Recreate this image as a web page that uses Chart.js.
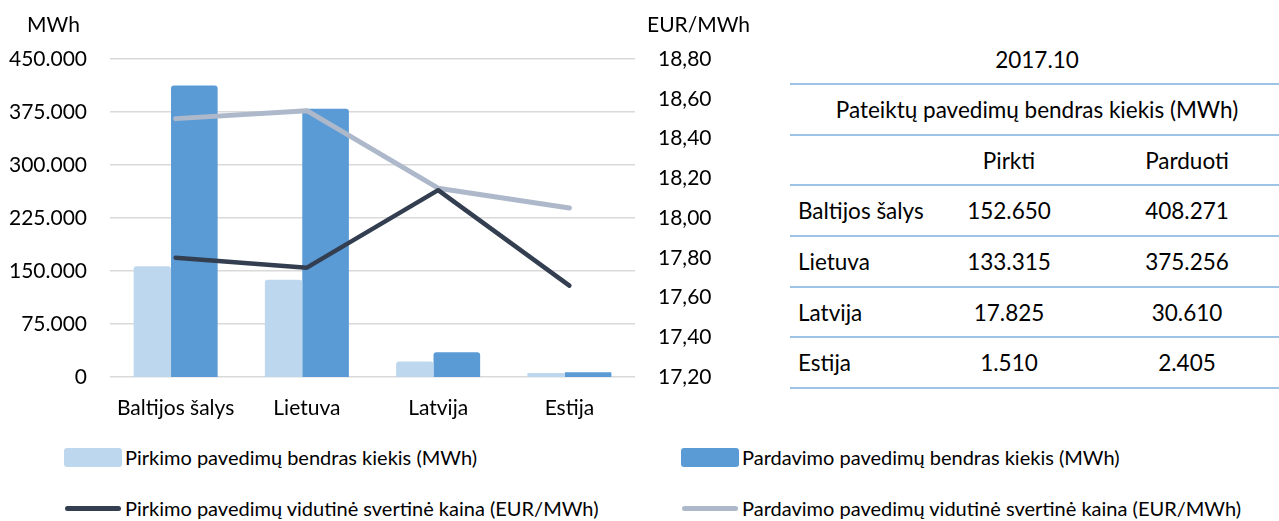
<!DOCTYPE html>
<html>
<head>
<meta charset="utf-8">
<script src="https://cdn.jsdelivr.net/npm/chart.js"></script>
<style>
  html, body { margin: 0; padding: 0; background: #fff; overflow: hidden; }
  body { width: 1279px; height: 521px; position: relative; font-family: Lato, "Noto Sans", sans-serif; color: #000; }
  #wrap { position: absolute; left: 0; top: 0; width: 780px; height: 430px; }
  .axis-title { position: absolute; top: 11px; font-size: 21px; line-height: 25px; }
  #table { position: absolute; left: 790px; top: 35px; width: 494px; border-collapse: separate; border-spacing: 0; font-size: 22.5px; }
  #table td { padding: 0; height: 48.7px; border-bottom: 2px solid #9dc3e6; text-align: center; vertical-align: middle; }
  #table tr.title td { height: 48px; }
  #table td.name { text-align: left; padding-left: 8px; }
  .legend-item { position: absolute; height: 24px; display: flex; align-items: center; }
  .legend-item .swatch { flex: none; }
  .legend-item span { font-size: 20px; white-space: nowrap; }
</style>
</head>
<body>
<div id="wrap"><canvas id="chart" width="780" height="430"></canvas></div>
<div class="axis-title" style="left:27px">MWh</div>
<div class="axis-title" style="left:647px">EUR/MWh</div>
<table id="table"></table>
<div id="legend"></div>
<script>
const categories = ['Baltijos šalys', 'Lietuva', 'Latvija', 'Estija'];
const buyVolume = [152650, 133315, 17825, 1510];
const sellVolume = [408271, 375256, 30610, 2405];
const buyPrice = [17.80, 17.75, 18.14, 17.66];
const sellPrice = [18.50, 18.54, 18.15, 18.05];
const seriesLabels = [
  'Pirkimo pavedimų bendras kiekis (MWh)',
  'Pardavimo pavedimų bendras kiekis (MWh)',
  'Pirkimo pavedimų vidutinė svertinė kaina (EUR/MWh)',
  'Pardavimo pavedimų vidutinė svertinė kaina (EUR/MWh)'
];
const period = '2017.10';
const tableHeading = 'Pateiktų pavedimų bendras kiekis (MWh)';
const columnLabels = ['Pirkti', 'Parduoti'];

const colors = ['#bdd7ee', '#5b9bd5', '#333f50', '#adb9ca'];
const font = { family: 'Lato, "Noto Sans", sans-serif', size: 21 };

function thousands(v) {
  return String(Math.round(v)).replace(/\B(?=(\d{3})+(?!\d))/g, '.');
}

new Chart(document.getElementById('chart'), {
  type: 'bar',
  data: {
    labels: categories,
    datasets: [
      {
        label: seriesLabels[0], data: buyVolume, backgroundColor: colors[0],
        categoryPercentage: 0.71, barPercentage: 0.674, inflateAmount: 3,
        borderRadius: { topLeft: 3, topRight: 3 }, borderSkipped: false, order: 1
      },
      {
        label: seriesLabels[1], data: sellVolume, backgroundColor: colors[1],
        categoryPercentage: 0.57, barPercentage: 1.086, inflateAmount: 3,
        borderRadius: { topLeft: 3, topRight: 3 }, borderSkipped: false, order: 1
      },
      {
        type: 'line', label: seriesLabels[2], data: buyPrice, yAxisID: 'y1',
        borderColor: colors[2], borderWidth: 4.5, pointRadius: 0,
        borderCapStyle: 'round', borderJoinStyle: 'round', order: 0
      },
      {
        type: 'line', label: seriesLabels[3], data: sellPrice, yAxisID: 'y1',
        borderColor: colors[3], borderWidth: 5, pointRadius: 0,
        borderCapStyle: 'round', borderJoinStyle: 'round', order: 0
      }
    ]
  },
  options: {
    responsive: false,
    animation: false,
    layout: { padding: { top: 59, left: 0, right: 0, bottom: 0 } },
    plugins: { legend: { display: false }, tooltip: { enabled: false } },
    scales: {
      x: {
        grid: { display: false },
        border: { display: false },
        ticks: { color: '#000', font: font, padding: 11, maxRotation: 0 },
        afterFit: (axis) => { axis.height = 53; }
      },
      y: {
        position: 'left',
        min: 0, max: 450000,
        grid: { color: '#d9d9d9', lineWidth: 1.5, drawTicks: false },
        border: { display: false },
        ticks: { stepSize: 75000, color: '#000', font: font, padding: 23, callback: (v) => thousands(v) },
        afterFit: (axis) => { axis.width = 110; }
      },
      y1: {
        position: 'right',
        min: 17.2, max: 18.8,
        grid: { display: false, drawTicks: false },
        border: { display: false },
        ticks: { stepSize: 0.2, color: '#000', font: font, padding: 23, callback: (v) => v.toFixed(2).replace('.', ',') },
        afterFit: (axis) => { axis.width = 145; }
      }
    }
  }
});

// table on the right
const table = document.getElementById('table');
let html = '<tr class="title"><td colspan="3">' + period + '</td></tr>';
html += '<tr><td colspan="3">' + tableHeading + '</td></tr>';
html += '<tr><td class="name" style="width:130px"></td><td style="width:162px">' + columnLabels[0] + '</td><td>' + columnLabels[1] + '</td></tr>';
categories.forEach((c, i) => {
  html += '<tr><td class="name">' + c + '</td><td>' + thousands(buyVolume[i]) + '</td><td>' + thousands(sellVolume[i]) + '</td></tr>';
});
table.innerHTML = html;

// legend, two columns
const legend = document.getElementById('legend');
const spots = [[64, 445], [681, 445], [64, 496], [681, 496]];
seriesLabels.forEach((label, i) => {
  const item = document.createElement('div');
  item.className = 'legend-item';
  item.style.left = spots[i][0] + 'px';
  item.style.top = spots[i][1] + 'px';
  const sw = document.createElement('div');
  sw.className = 'swatch';
  if (i < 2) {
    sw.style.cssText = 'width:58px;height:19px;border-radius:3px;margin-right:3px;background:' + colors[i];
  } else {
    sw.style.cssText = 'width:56px;height:5px;border-radius:3px;margin:0 4px 0 1px;background:' + colors[i];
  }
  const txt = document.createElement('span');
  txt.textContent = label;
  item.appendChild(sw);
  item.appendChild(txt);
  legend.appendChild(item);
});
</script>
</body>
</html>
